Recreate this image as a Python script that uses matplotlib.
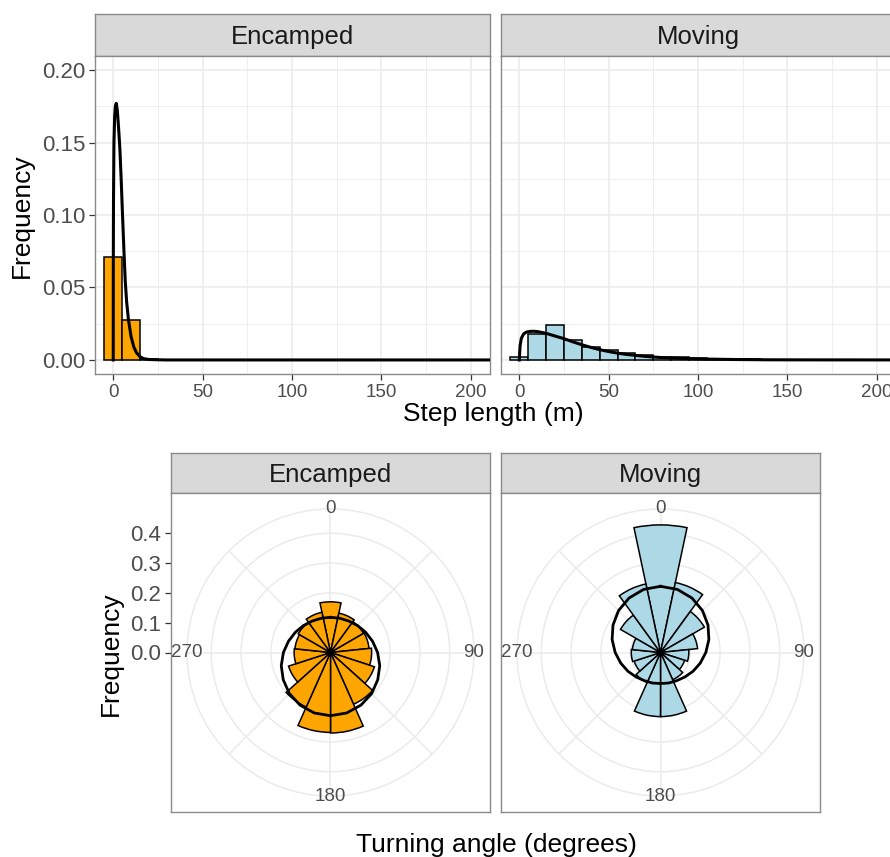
import numpy as np
import matplotlib
matplotlib.use('Agg')
import matplotlib.pyplot as plt

plt.rcParams['font.family'] = ['Liberation Sans', 'DejaVu Sans']

W, H = 890, 857

# ---- data ----
states = ['Encamped', 'Moving']
fills = {'Encamped': '#FFA500', 'Moving': '#ADD8E6'}

# step length histograms, bins of 10 m centred at 0, 10, ..., 200
step_bins = list(range(0, 210, 10))
enc_step_freq = [0.0712, 0.0276, 0.0004, 0, 0, 0, 0, 0, 0, 0, 0,
                 0, 0, 0, 0, 0, 0, 0, 0, 0, 0]
mov_step_freq = [0.0018, 0.0180, 0.0243, 0.0136, 0.0089, 0.0067, 0.0050,
                 0.0034, 0.0023, 0.0018, 0.0013, 0.0009, 0.0006, 0.0004,
                 0.0003, 0.0002, 0.0001, 0.0001, 0.0001, 0, 0]

# fitted step length densities
enc_curve_x = [0, 0.05, 0.15, 0.4, 0.8, 1.2, 1.7, 2.3, 3, 3.7, 4.4, 5.2, 6,
               6.7, 7.5, 8.5, 10, 11.5, 13, 15, 17, 20, 25, 30, 220]
enc_curve_y = [0, 0.07, 0.11, 0.15, 0.168, 0.175, 0.177, 0.172, 0.16, 0.146,
               0.126, 0.10, 0.075, 0.055, 0.04, 0.028, 0.016, 0.009, 0.005,
               0.0022, 0.0009, 0.0003, 0.0001, 0, 0]
mov_curve_x = [0, 0.5, 1.2, 2.5, 4, 6, 8, 10, 13, 16, 20, 25, 30, 35, 40, 45,
               50, 55, 60, 70, 80, 90, 100, 120, 140, 160, 220]
mov_curve_y = [0, 0.010, 0.015, 0.018, 0.0192, 0.0197, 0.0198, 0.0196,
               0.0189, 0.018, 0.0165, 0.0147, 0.0125, 0.0105, 0.0087, 0.0071,
               0.0058, 0.0047, 0.0038, 0.0025, 0.0016, 0.0011, 0.0007, 0.0003,
               0.0001, 0.00005, 0]

# turning angle histograms, 15 bins of 24 degrees centred at 0, 24, ...
angle_bins = list(range(0, 360, 24))
enc_angle_freq = [0.170, 0.135, 0.128, 0.130, 0.138, 0.155, 0.190, 0.270,
                  0.268, 0.200, 0.148, 0.122, 0.120, 0.125, 0.138]
mov_angle_freq = [0.428, 0.240, 0.170, 0.125, 0.095, 0.085, 0.100, 0.215,
                  0.215, 0.110, 0.093, 0.098, 0.095, 0.155, 0.235]

# fitted turning angle densities, read every 15 degrees
curve_theta = list(range(0, 375, 15))
enc_angle_curve = [0.118, 0.119, 0.122, 0.128, 0.136, 0.146, 0.158, 0.171,
                   0.183, 0.195, 0.204, 0.210, 0.212, 0.210, 0.204, 0.195,
                   0.183, 0.171, 0.158, 0.146, 0.136, 0.128, 0.122, 0.119,
                   0.118]
mov_angle_curve = [0.222, 0.219, 0.211, 0.199, 0.184, 0.168, 0.152, 0.138,
                   0.126, 0.116, 0.109, 0.106, 0.104, 0.106, 0.109, 0.116,
                   0.126, 0.138, 0.152, 0.168, 0.184, 0.199, 0.211, 0.219,
                   0.222]

step_data = {'Encamped': (enc_step_freq, enc_curve_x, enc_curve_y),
             'Moving': (mov_step_freq, mov_curve_x, mov_curve_y)}
angle_data = {'Encamped': (enc_angle_freq, enc_angle_curve),
              'Moving': (mov_angle_freq, mov_angle_curve)}

GRID = '#EBEBEB'
BORDER = '#8A8A8A'
TICKTXT = '#4D4D4D'


def box(x0, y0, x1, y1):
    return [x0 / W, 1 - y1 / H, (x1 - x0) / W, (y1 - y0) / H]


def strip(fig, x0, y0, x1, y1, label):
    s = fig.add_axes(box(x0, y0, x1, y1))
    s.set_facecolor('#D9D9D9')
    s.set_xticks([])
    s.set_yticks([])
    for sp in s.spines.values():
        sp.set_color(BORDER)
        sp.set_linewidth(1)
    s.text(0.5, 0.45, label, ha='center', va='center', fontsize=18.5,
           color='#1A1A1A', transform=s.transAxes)


fig = plt.figure(figsize=(W / 100, H / 100), dpi=100)

# ---- top row: step length ----
top_x = {'Encamped': (95, 490), 'Moving': (501, 896)}
for st in states:
    x0, x1 = top_x[st]
    strip(fig, x0, 14, x1, 56, st)
    ax = fig.add_axes(box(x0, 56, x1, 374))
    freq, cx, cy = step_data[st]
    ax.bar(step_bins, freq, width=10, color=fills[st], edgecolor='black',
           linewidth=1.1, zorder=2)
    ax.plot(cx, cy, color='black', lw=2.2, zorder=3)
    ax.set_xlim(-10.2, 210.8)
    ax.set_ylim(-0.0097, 0.2097)
    ax.set_xticks([0, 50, 100, 150, 200])
    ax.set_xticks([25, 75, 125, 175], minor=True)
    ax.set_yticks([0, 0.05, 0.10, 0.15, 0.20])
    ax.set_yticks([0.025, 0.075, 0.125, 0.175], minor=True)
    ax.set_yticklabels(['0.00', '0.05', '0.10', '0.15', '0.20'])
    ax.grid(which='major', color=GRID, lw=1.1)
    ax.grid(which='minor', color=GRID, lw=0.6)
    ax.set_axisbelow(True)
    ax.tick_params(which='minor', length=0)
    ax.tick_params(which='major', length=4, width=0.9, color='#333333',
                   labelcolor=TICKTXT)
    ax.tick_params(axis='x', labelsize=13.5, pad=3)
    ax.tick_params(axis='y', labelsize=16, pad=3)
    if st != 'Encamped':
        ax.tick_params(axis='y', left=False, labelleft=False)
    for sp in ax.spines.values():
        sp.set_color(BORDER)
        sp.set_linewidth(1)

fig.text(493 / W, 1 - 414 / H, 'Step length (m)', ha='center', va='center',
         fontsize=19)
fig.text(22 / W, 1 - 216 / H, 'Frequency', ha='center', va='center',
         rotation=90, fontsize=19)

# ---- bottom row: turning angle (polar) ----
rmax = max(max(enc_angle_freq), max(mov_angle_freq))
r_outer = rmax * 0.45 / 0.4
bot_x = {'Encamped': (171, 490), 'Moving': (501, 820)}
by0, by1 = 493, 812
for st in states:
    x0, x1 = bot_x[st]
    strip(fig, x0, 453, x1, by0, st)
    pan = fig.add_axes(box(x0, by0, x1, by1))
    lim = rmax * 0.5 / 0.4
    pan.set_xlim(-lim, lim)
    pan.set_ylim(-lim, lim)
    pan.set_xticks([])
    pan.set_yticks([0, 0.1, 0.2, 0.3, 0.4])
    pan.set_yticklabels(['0.0', '0.1', '0.2', '0.3', '0.4'])
    pan.tick_params(axis='y', length=4, width=0.9, color='#333333',
                    labelcolor=TICKTXT, labelsize=16, pad=3)
    if st != 'Encamped':
        pan.tick_params(axis='y', left=False, labelleft=False)
    for sp in pan.spines.values():
        sp.set_color(BORDER)
        sp.set_linewidth(1)

    cxp = (x0 + x1) / 2
    cyp = (by0 + by1) / 2
    rp = 0.45 * (x1 - x0)
    pax = fig.add_axes(box(cxp - rp, cyp - rp, cxp + rp, cyp + rp),
                       projection='polar')
    pax.patch.set_alpha(0)
    pax.set_theta_zero_location('N')
    pax.set_theta_direction(-1)
    pax.set_ylim(0, r_outer)
    pax.set_rticks([0.1, 0.2, 0.3, 0.4])
    pax.set_yticklabels([])
    pax.set_xticks(np.deg2rad(np.arange(0, 360, 45)))
    pax.set_xticklabels([])
    pax.grid(color=GRID, lw=1.1)
    pax.spines['polar'].set_color(GRID)
    pax.spines['polar'].set_linewidth(1.1)
    pax.set_axisbelow(True)

    afreq, acurve = angle_data[st]
    pax.bar(np.deg2rad(angle_bins), afreq, width=np.deg2rad(24),
            color=fills[st], edgecolor='black', linewidth=1.1, zorder=2)
    pax.plot(np.deg2rad(curve_theta), acurve, color='black', lw=2.0, zorder=3)
    for lab in [0, 90, 180, 270]:
        pax.text(np.deg2rad(lab), r_outer, str(lab), ha='center', va='center',
                 fontsize=13.5, color=TICKTXT, clip_on=False, zorder=4)

fig.text(496 / W, 1 - 845 / H, 'Turning angle (degrees)', ha='center',
         va='center', fontsize=19)
fig.text(111 / W, 1 - 654 / H, 'Frequency', ha='center', va='center',
         rotation=90, fontsize=19)

fig.savefig('out.png', dpi=100)
